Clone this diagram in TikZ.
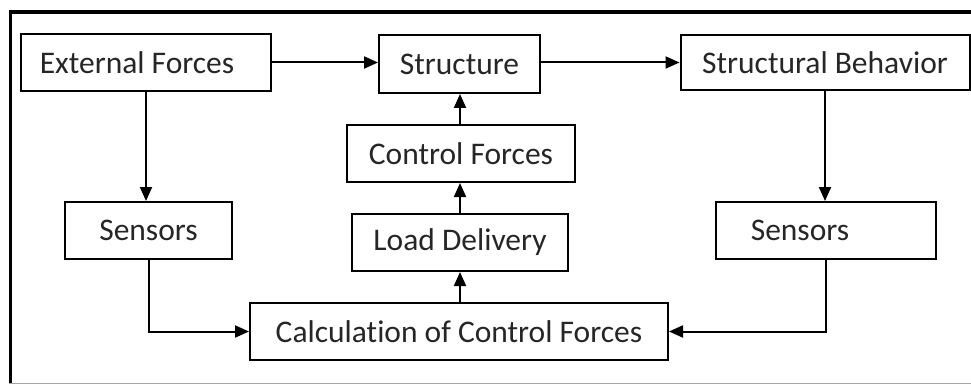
\documentclass[tikz,border=0pt]{standalone}
\usepackage{fontspec}
\setmainfont{Carlito}[Ligatures=NoCommon]
\usetikzlibrary{arrows.meta}
\begin{document}
\begin{tikzpicture}[x=1pt,y=-1pt,
  box/.style={draw=black, line width=2pt, minimum height=57pt, inner sep=0pt,
    font=\fontsize{31.5}{35}\selectfont, text=black!85},
  conn/.style={draw=black, line width=2pt, -{Triangle[length=14pt,width=12pt]}}]
\useasboundingbox (0,0) rectangle (971,385);
\fill[white] (0,0) rectangle (971,385);
% frame
\draw[line width=4pt] (10.5,12) -- (971,12);
\draw[line width=3pt] (10.5,10) -- (10.5,383);
\draw[line width=1pt, black!35] (9,383.5) -- (971,383.5);
% nodes
\node[box, minimum width=250pt] (ext) at (146,62.5) {External Forces\kern18pt};
\node[box, minimum width=161pt, minimum height=58pt] (str) at (459.5,64) {Structure};
\node[box, minimum width=289pt, minimum height=55pt] (beh) at (825,62.5) {Structural Behavior};
\node[box, minimum width=228pt] (cf) at (461,153.5) {Control Forces};
\node[box, minimum width=167pt] (sl) at (148.5,230.5) {Sensors};
\node[box, minimum width=216pt] (ld) at (460,242.5) {Load Delivery};
\node[box, minimum width=220pt] (sr) at (826,230.5) {Sensors\kern52pt};
\node[box, minimum width=418pt] (calc) at (459,331.5) {Calculation of Control Forces};
% connectors
\draw[conn] (ext.east) -- (ext.east -| str.west);
\draw[conn] (str.east |- beh.west) -- (beh.west);
\draw[conn] (ext.south) -- (ext.south |- sl.north);
\draw[conn] (beh.south) -- (beh.south |- sr.north);
\draw[conn] (sl.south) |- (calc.west);
\draw[conn] (sr.south) |- (calc.east);
\draw[conn] (ld.north |- calc.north) -- (ld.south);
\draw[conn] (ld.north) -- (ld.north |- cf.south);
\draw[conn] (ld.north |- cf.north) -- (ld.north |- str.south);
\end{tikzpicture}
\end{document}
